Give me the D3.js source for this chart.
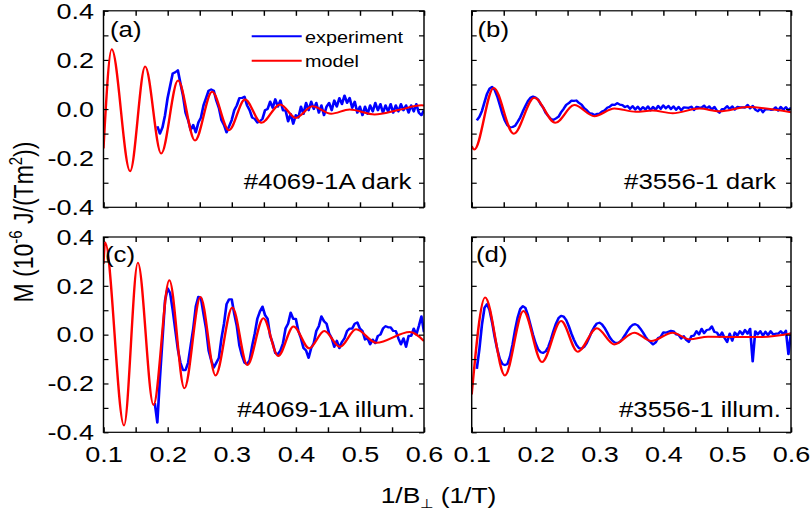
<!DOCTYPE html>
<html>
<head>
<meta charset="utf-8">
<script src="https://cdn.jsdelivr.net/npm/d3@7"></script>
<style>
  html, body { margin: 0; padding: 0; background: #fff; }
  svg { display: block; }
</style>
</head>
<body>
<svg id="chart" width="812" height="514"></svg>
<script>
// ---- tick values ----
const xTicks = [0.1, 0.15, 0.2, 0.25, 0.3, 0.35, 0.4, 0.45, 0.5, 0.55, 0.6];
const yTicks = [-0.4, -0.3, -0.2, -0.1, 0.0, 0.1, 0.2, 0.3, 0.4];

// ---- model curves: [1/B (1/T), M (1e-6 J/(T m^2))] at turning points ----
const modelA = [[0.100, -0.160], [0.1128, 0.243], [0.1415, -0.253], [0.165, 0.173], [0.190, -0.181],
  [0.2163, 0.116], [0.2427, -0.128], [0.2695, 0.070], [0.2957, -0.086], [0.3207, 0.039],
  [0.3463, -0.056], [0.3756, 0.019], [0.400, -0.036], [0.426, 0.011], [0.455, -0.019],
  [0.484, -0.002], [0.523, -0.022], [0.560, -0.004], [0.596, 0.015], [0.600, 0.014]];
const modelB = [[0.100, -0.151], [0.104, -0.165], [0.1344, 0.086], [0.1658, -0.101], [0.198, 0.046],
  [0.231, -0.056], [0.2607, 0.016], [0.292, -0.029], [0.3234, 0.002], [0.357, -0.011],
  [0.383, -0.006], [0.4147, -0.017], [0.4565, 0.002], [0.488, -0.009], [0.532, 0.008], [0.600, -0.013]];
const modelC = [[0.100, 0.290], [0.1025, 0.378], [0.132, -0.372], [0.1536, 0.295], [0.178, -0.288],
  [0.2027, 0.223], [0.2262, -0.220], [0.2513, 0.154], [0.2748, -0.167], [0.301, 0.111],
  [0.3244, -0.124], [0.3495, 0.067], [0.3725, -0.087], [0.3965, 0.033], [0.421, -0.056],
  [0.4445, 0.015], [0.469, -0.050], [0.494, 0.022], [0.5255, -0.033], [0.578, 0.011], [0.600, -0.026]];
const modelD = [[0.100, -0.245], [0.121, 0.152], [0.152, -0.167], [0.181, 0.097], [0.210, -0.112],
  [0.240, 0.056], [0.266, -0.070], [0.296, 0.026], [0.323, -0.040], [0.3547, 0.008],
  [0.381, -0.026], [0.4147, 0.008], [0.441, -0.019], [0.470, -0.009], [0.550, -0.010], [0.600, 0.005]];

// ---- measured magnetisation, sampled every EXP_STEP in 1/B starting at expX0_* ----
const EXP_STEP = 0.004;
const expX0_A = 0.184;
const expA = [-0.07, -0.10, -0.075, -0.025, 0.045, 0.095, 0.145, 0.15, 0.158, 0.105,
  0.055, -0.015, -0.045, -0.085, -0.065, -0.095, -0.055, -0.035, 0.015, 0.045,
  0.075, 0.08, 0.075, 0.035, 0.005, -0.045, -0.065, -0.095, -0.07, -0.045,
  -0.005, 0.015, 0.045, 0.045, 0.05, 0.015, -0.005, -0.035, -0.04, -0.055,
  -0.05, -0.04, -0.005, 0.0, 0.03, 0.005, 0.04, 0.01, 0.035, -0.005,
  -0.005, -0.05, -0.02, -0.06, -0.025, -0.035, 0.01, -0.02, 0.025, -0.005,
  0.03, 0.0, 0.025, -0.015, 0.015, -0.025, 0.01, 0.025, -0.005, 0.035,
  0.01, 0.045, 0.02, 0.055, 0.025, 0.045, 0.005, 0.03, -0.015, 0.01,
  -0.025, 0.01, -0.02, 0.015, -0.01, 0.025, -0.005, 0.02, -0.015, 0.015,
  -0.01, 0.02, -0.015, 0.015, -0.01, 0.02, -0.005, 0.015, -0.015, 0.015,
  -0.01, 0.02, -0.015, -0.025, -0.005];
const expX0_B = 0.108;
const expB = [-0.046, -0.032, -0.008, 0.028, 0.062, 0.083, 0.090, 0.078, 0.052, 0.018,
  -0.018, -0.047, -0.066, -0.075, -0.073, -0.068, -0.052, -0.034, -0.010, 0.012,
  0.032, 0.046, 0.051, 0.047, 0.039, 0.020, 0.006, -0.016, -0.029, -0.040,
  -0.044, -0.038, -0.031, -0.013, 0.001, 0.017, 0.024, 0.034, 0.033, 0.035,
  0.025, 0.018, 0.004, -0.004, -0.016, -0.018, -0.024, -0.020, -0.019, -0.010,
  -0.006, 0.005, 0.009, 0.018, 0.017, 0.024, 0.018, 0.016, 0.008, 0.013,
  0.001, 0.012, -0.002, 0.010, -0.004, 0.008, -0.002, 0.011, -0.005, 0.009,
  -0.003, 0.013, 0.001, 0.015, 0.003, 0.013, 0.000, 0.011, -0.003, 0.009,
  -0.005, 0.007, 0.006, 0.005, 0.010, -0.004, 0.009, 0.007, 0.006, 0.014,
  0.002, 0.011, -0.002, 0.009, -0.007, -0.015, 0.000, 0.001, 0.012, 0.000,
  0.011, -0.002, 0.009, 0.007, 0.007, 0.006, 0.017, 0.003, 0.013, -0.002,
  -0.009, 0.002, -0.013, 0.000, -0.001, -0.003, -0.002, 0.007, -0.006, 0.009,
  -0.003, 0.008, -0.005, 0.006];
const expX0_C = 0.180;
const expC = [-0.28, -0.36, -0.18, -0.02, 0.14, 0.19, 0.17, 0.10, 0.02, -0.06,
  -0.115, -0.145, -0.145, -0.115, -0.045, 0.025, 0.115, 0.155, 0.15, 0.085,
  0.025, -0.065, -0.105, -0.135, -0.115, -0.095, -0.015, 0.045, 0.125, 0.145,
  0.145, 0.085, 0.035, -0.045, -0.085, -0.115, -0.12, -0.105, -0.045, 0.005,
  0.065, 0.095, 0.115, 0.08, 0.065, -0.005, -0.035, -0.075, -0.08, -0.065,
  -0.035, 0.025, 0.045, 0.09, 0.065, 0.065, 0.015, -0.015, -0.055, -0.065,
  -0.095, -0.055, -0.035, 0.015, 0.035, 0.075, 0.055, 0.045, 0.005, -0.015,
  -0.05, -0.025, -0.055, -0.03, -0.015, 0.015, 0.025, 0.025, 0.045, 0.05,
  0.025, 0.015, -0.02, -0.015, -0.04, -0.02, -0.035, -0.005, 0.0, 0.025,
  0.035, 0.03, 0.03, 0.015, 0.015, -0.015, -0.04, -0.015, -0.05, -0.005,
  -0.005, 0.025, 0.0, 0.035, 0.075, 0.01];
const expX0_D = 0.108;
const expD = [-0.14, -0.06, 0.04, 0.11, 0.125, 0.10, 0.05, -0.01, -0.06, -0.10,
  -0.12, -0.125, -0.12, -0.09, -0.04, 0.02, 0.07, 0.105, 0.117, 0.11,
  0.08, 0.04, 0.0, -0.035, -0.06, -0.072, -0.075, -0.068, -0.05, -0.02,
  0.015, 0.045, 0.068, 0.077, 0.074, 0.06, 0.035, 0.005, -0.02, -0.042,
  -0.055, -0.057, -0.05, -0.035, -0.012, 0.012, 0.032, 0.046, 0.049, 0.042,
  0.028, 0.01, -0.01, -0.024, -0.032, -0.034, -0.03, -0.018, -0.002, 0.015,
  0.03, 0.04, 0.043, 0.038, 0.025, 0.01, -0.008, -0.022, -0.03, -0.04,
  -0.032, -0.014, -0.009, 0.009, 0.008, 0.012, 0.016, 0.014, 0.001, -0.001,
  -0.016, -0.006, -0.022, -0.03, -0.006, -0.004, 0.014, 0.001, 0.024, 0.006,
  0.019, 0.021, 0.034, 0.011, 0.009, -0.009, 0.009, -0.014, -0.03, 0.004,
  -0.025, 0.009, -0.004, 0.014, 0.001, 0.019, 0.004, 0.024, -0.11, 0.014,
  0.001, 0.014, -0.004, 0.012, -0.002, 0.014, 0.001, 0.004, 0.004, 0.014,
  0.001, 0.016, -0.08, 0.009];

// ---- panel titles ----
const panelLetters = ["(a)", "(b)", "(c)", "(d)"];
const panelNotes = ["#4069-1A dark", "#3556-1 dark", "#4069-1A illum.", "#3556-1 illum."];
const legendNames = ["experiment", "model"];

// ---- layout (screen pixels) ----
const SX = 1.2;                      // horizontal stretch of the whole figure
const FONT = '"Liberation Sans", Arial, Helvetica, sans-serif';
const BLUE = "#0000ff", RED = "#ff0000";
const TICK = 5;
const colX = [[103.5, 424], [471.7, 791]];
const rowY = [[10.8, 207.3], [237, 432.3]];
const letterPos = [[110, 37.5], [477.5, 37.5], [105, 262.5], [476, 262.5]];
const notePos = [[411.5, 189.5], [776, 189.5], [415, 417], [781, 417]];

const panels = [
  { col: 0, row: 0, model: modelA, exp: expA, x0: expX0_A },
  { col: 1, row: 0, model: modelB, exp: expB, x0: expX0_B },
  { col: 0, row: 1, model: modelC, exp: expC, x0: expX0_C },
  { col: 1, row: 1, model: modelD, exp: expD, x0: expX0_D }
];

const svg = d3.select("#chart");
const defs = svg.append("defs");
const root = svg.append("g").attr("transform", `scale(${SX},1)`);

const isTenth = d => Math.abs(d * 10 - Math.round(d * 10)) < 1e-6;
const xFmt = d => isTenth(d) ? d.toFixed(1) : "";
const yFmt = d => (Math.abs(d * 5 - Math.round(d * 5)) < 1e-6) ? d.toFixed(1) : "";
const blank = () => "";

function styleAxis(a) {
  a.select(".domain").remove();
  a.selectAll("line").attr("stroke", "#000").attr("stroke-width", 1.2);
  a.attr("font-size", 22.5).attr("font-family", FONT);
  a.selectAll("text").attr("fill", "#000");
}

panels.forEach((p, i) => {
  const [sx0, sx1] = colX[p.col];
  const [sy0, sy1] = rowY[p.row];
  const x = d3.scaleLinear().domain([0.1, 0.6]).range([sx0 / SX, sx1 / SX]);
  const y = d3.scaleLinear().domain([-0.4, 0.4]).range([sy1, sy0]);
  const g = root.append("g");

  defs.append("clipPath").attr("id", "clip" + i)
    .append("rect")
    .attr("x", sx0 / SX).attr("y", sy0)
    .attr("width", (sx1 - sx0) / SX).attr("height", sy1 - sy0);

  const plot = g.append("g").attr("clip-path", `url(#clip${i})`);

  const expPts = p.exp.map((v, k) => [p.x0 + k * EXP_STEP, v]);
  const expLine = d3.line().x(d => x(d[0])).y(d => y(d[1]));
  const modelLine = d3.line().x(d => x(d[0])).y(d => y(d[1])).curve(d3.curveMonotoneX);

  plot.append("path").datum(expPts)
    .attr("d", expLine)
    .attr("fill", "none").attr("stroke", BLUE)
    .attr("stroke-width", 2.2).attr("stroke-linejoin", "round");

  plot.append("path").datum(p.model)
    .attr("d", modelLine)
    .attr("fill", "none").attr("stroke", RED)
    .attr("stroke-width", 2).attr("stroke-linejoin", "round");

  // axes with inward ticks on all four sides
  g.append("g").attr("transform", `translate(0,${sy1})`)
    .call(d3.axisBottom(x).tickValues(xTicks).tickSize(-TICK).tickPadding(14)
      .tickFormat(p.row === 1 ? xFmt : blank))
    .call(styleAxis);
  g.append("g").attr("transform", `translate(0,${sy0})`)
    .call(d3.axisTop(x).tickValues(xTicks).tickSize(-TICK).tickFormat(blank))
    .call(styleAxis);
  g.append("g").attr("transform", `translate(${sx0 / SX},0)`)
    .call(d3.axisLeft(y).tickValues(yTicks).tickSize(-TICK / SX).tickPadding(8)
      .tickFormat(p.col === 0 ? yFmt : blank))
    .call(styleAxis);
  g.append("g").attr("transform", `translate(${sx1 / SX},0)`)
    .call(d3.axisRight(y).tickValues(yTicks).tickSize(-TICK / SX).tickFormat(blank))
    .call(styleAxis);

  g.append("rect")
    .attr("x", sx0 / SX).attr("y", sy0)
    .attr("width", (sx1 - sx0) / SX).attr("height", sy1 - sy0)
    .attr("fill", "none").attr("stroke", "#000").attr("stroke-width", 1.2);

  g.append("text")
    .attr("x", letterPos[i][0] / SX).attr("y", letterPos[i][1])
    .attr("font-family", FONT).attr("font-size", 21.5)
    .text(panelLetters[i]);

  g.append("text")
    .attr("x", notePos[i][0] / SX).attr("y", notePos[i][1])
    .attr("text-anchor", "end")
    .attr("font-family", FONT).attr("font-size", 21.5)
    .text(panelNotes[i]);
});

// legend inside panel (a)
const legend = root.append("g").attr("font-family", FONT).attr("font-size", 16.5);
[[BLUE, 36.3, 43], [RED, 60.7, 67.3]].forEach(([c, ly, ty], k) => {
  legend.append("line")
    .attr("x1", 251.7 / SX).attr("x2", 301.7 / SX)
    .attr("y1", ly).attr("y2", ly)
    .attr("stroke", c).attr("stroke-width", 2);
  legend.append("text")
    .attr("x", 305 / SX).attr("y", ty)
    .text(legendNames[k]);
});

// y-axis title
const yt = root.append("text")
  .attr("transform", `translate(${33 / SX},222) rotate(-90)`)
  .attr("text-anchor", "middle")
  .attr("font-family", FONT).attr("font-size", 23);
yt.append("tspan").text("M (10");
yt.append("tspan").attr("font-size", 15).attr("dy", -9).text("-6");
yt.append("tspan").attr("dy", 9).text(" J/(Tm");
yt.append("tspan").attr("font-size", 15).attr("dy", -9).text("2");
yt.append("tspan").attr("dy", 9).text("))");

// x-axis title
const xt = root.append("text")
  .attr("x", 438.5 / SX).attr("y", 503)
  .attr("text-anchor", "middle")
  .attr("font-family", FONT).attr("font-size", 22);
xt.append("tspan").text("1/B");
xt.append("tspan").attr("font-size", 13).attr("dy", 5).text("\u22A5");
xt.append("tspan").attr("dy", -5).text(" (1/T)");
</script>
</body>
</html>
